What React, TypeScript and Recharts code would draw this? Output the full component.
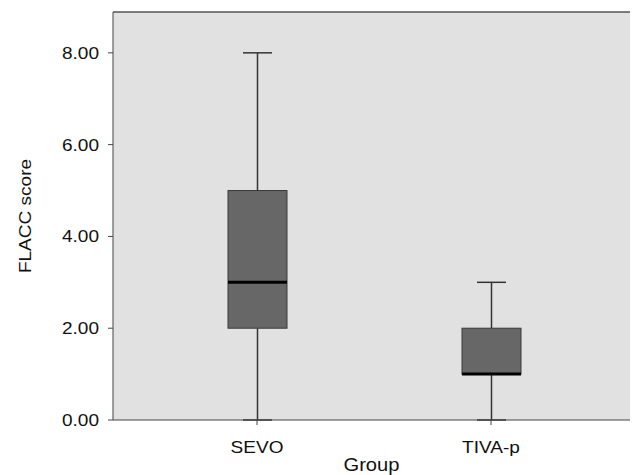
import { Bar, CartesianGrid, ComposedChart, XAxis, YAxis } from "recharts";

const groups = ["SEVO", "TIVA-p"];
const mins = [0, 0];
const q1s = [2, 1];
const medians = [3, 1];
const q3s = [5, 2];
const maxs = [8, 3];
const yTicks = [0, 2, 4, 6, 8];

// stacked segments: base -> low whisker -> box -> high whisker
const data = groups.map((g, i) => ({
  group: g,
  base: mins[i],
  lowWhisker: q1s[i] - mins[i],
  box: q3s[i] - q1s[i],
  medianOffset: medians[i] - q1s[i],
  highWhisker: maxs[i] - q3s[i],
}));

const FONT = "'Liberation Sans', Arial, sans-serif";
const LINE = "#333333";
const CAP = 29;
const FS = 17;
const SX = 1.12; // source image is slightly stretched horizontally

const Empty = () => <g />;

const LowWhisker = (props: any) => {
  const { x, y, width, height } = props;
  const cx = x + width / 2;
  return (
    <g>
      <line x1={cx} x2={cx} y1={y} y2={y + height} stroke={LINE} strokeWidth={1.5} />
      <line x1={cx - CAP / 2} x2={cx + CAP / 2} y1={y + height} y2={y + height} stroke={LINE} strokeWidth={1.5} />
    </g>
  );
};

const HighWhisker = (props: any) => {
  const { x, y, width, height } = props;
  const cx = x + width / 2;
  return (
    <g>
      <line x1={cx} x2={cx} y1={y} y2={y + height} stroke={LINE} strokeWidth={1.5} />
      <line x1={cx - CAP / 2} x2={cx + CAP / 2} y1={y} y2={y} stroke={LINE} strokeWidth={1.5} />
    </g>
  );
};

const Box = (props: any) => {
  const { x, y, width, height, payload } = props;
  const my = y + height - (height * payload.medianOffset) / payload.box;
  return (
    <g>
      <rect x={x} y={y} width={width} height={height} fill="#676767" stroke="#3a3a3a" strokeWidth={1} />
      <line x1={x} x2={x + width} y1={my} y2={my} stroke="#000" strokeWidth={3} />
    </g>
  );
};

const XTick = (props: any) => {
  const { x, y, payload } = props;
  return (
    <text transform={`translate(${x},${y}) scale(${SX},1)`} textAnchor="middle" dy="0.71em" fill="#111" fontSize={FS} fontFamily={FONT}>
      {payload.value}
    </text>
  );
};

const YTick = (props: any) => {
  const { x, y, payload } = props;
  return (
    <text transform={`translate(${x},${y}) scale(${SX},1)`} textAnchor="end" dy="0.355em" fill="#111" fontSize={FS} fontFamily={FONT}>
      {Number(payload.value).toFixed(2)}
    </text>
  );
};

const XLabel = (props: any) => {
  const { viewBox } = props;
  const cx = viewBox.x + viewBox.width / 2;
  return (
    <text transform={`translate(${cx},471) scale(${SX},1)`} textAnchor="middle" fill="#111" fontSize={FS + 1} fontFamily={FONT}>
      Group
    </text>
  );
};

const YLabel = (props: any) => {
  const { viewBox } = props;
  const cy = viewBox.y + viewBox.height / 2;
  return (
    <text transform={`translate(25,${cy}) rotate(-90) scale(${SX},1)`} textAnchor="middle" dy="0.355em" fill="#111" fontSize={FS} fontFamily={FONT}>
      FLACC score
    </text>
  );
};

export default function App() {
  return (
    <div style={{ position: "absolute", left: 0, top: 0, width: 632, height: 475, background: "#fff" }}>
      <ComposedChart width={632} height={475} data={data} margin={{ top: 11, right: 2, bottom: 0, left: 0 }}>
        <CartesianGrid horizontal={false} vertical={false} fill="#e1e1e1" />
        <XAxis
          dataKey="group"
          height={55}
          padding={{ left: 27, right: 22 }}
          tickSize={5}
          tickMargin={16}
          stroke="#444"
          tick={<XTick />}
          label={<XLabel />}
        />
        <XAxis
          xAxisId="top"
          orientation="top"
          dataKey="group"
          height={1}
          tick={false}
          tickLine={false}
          axisLine={{ stroke: "#555", strokeWidth: 1.5 }}
        />
        <YAxis
          width={113}
          domain={[0, 8.89]}
          ticks={yTicks}
          tickSize={5}
          tickMargin={9}
          stroke="#444"
          tick={<YTick />}
          label={<YLabel />}
        />
        <Bar dataKey="base" stackId="b" barSize={59} shape={Empty} isAnimationActive={false} />
        <Bar dataKey="lowWhisker" stackId="b" barSize={59} shape={LowWhisker} isAnimationActive={false} />
        <Bar dataKey="box" stackId="b" barSize={59} shape={Box} isAnimationActive={false} />
        <Bar dataKey="highWhisker" stackId="b" barSize={59} shape={HighWhisker} isAnimationActive={false} />
      </ComposedChart>
    </div>
  );
}
